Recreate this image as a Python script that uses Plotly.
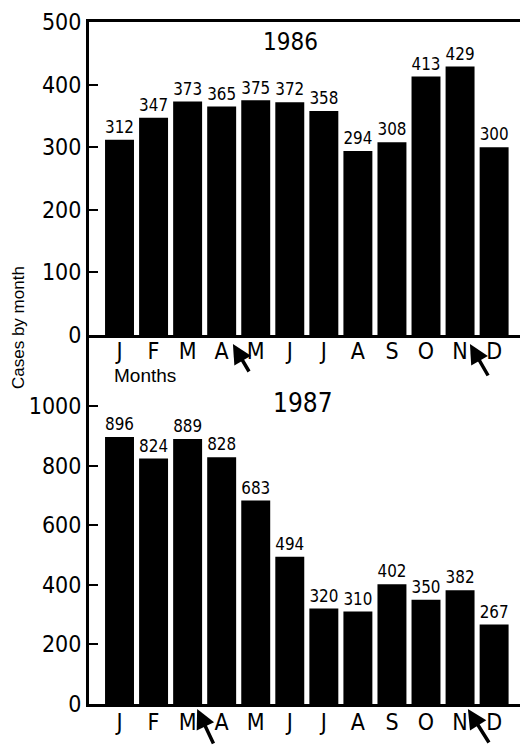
import plotly.graph_objects as go

months = ["J", "F", "M", "A", "M", "J", "J", "A", "S", "O", "N", "D"]
cases_1986 = [312, 347, 373, 365, 375, 372, 358, 294, 308, 413, 429, 300]
cases_1987 = [896, 824, 889, 828, 683, 494, 320, 310, 402, 350, 382, 267]
ticks_1986 = [0, 100, 200, 300, 400, 500]
ticks_1987 = [0, 200, 400, 600, 800, 1000]
# arrow positions (fractional month index) marking events
arrows_1986 = [3.33, 10.29]
arrows_1987 = [2.28, 10.23]

NARROW = "Noto Sans Condensed, DejaVu Sans Condensed, Liberation Sans Narrow, Roboto Condensed, Roboto, sans-serif"
PLAIN = "Liberation Sans, Arial, sans-serif"

xpos = list(range(len(months)))
fig = go.Figure()
fig.add_trace(go.Bar(x=xpos, y=cases_1986, xaxis="x", yaxis="y",
                     marker=dict(color="black", line=dict(width=0)),
                     text=[str(v) for v in cases_1986], textposition="outside",
                     textfont=dict(family=NARROW, size=18, color="black"),
                     cliponaxis=False, showlegend=False, hoverinfo="skip"))
fig.add_trace(go.Bar(x=xpos, y=cases_1987, xaxis="x2", yaxis="y2",
                     marker=dict(color="black", line=dict(width=0)),
                     text=[str(v) for v in cases_1987], textposition="outside",
                     textfont=dict(family=NARROW, size=18, color="black"),
                     cliponaxis=False, showlegend=False, hoverinfo="skip"))

split = (704 - 335) / 682
xr = [-0.896, 11.76]
axis_common = dict(showgrid=False, zeroline=False, showline=True, linecolor="black",
                   linewidth=3)
fig.update_layout(
    width=520, height=745,
    margin=dict(l=89, r=0, t=22, b=41),
    paper_bgcolor="white", plot_bgcolor="white",
    bargap=0.15,
    xaxis=dict(domain=[0, 1], anchor="y", range=xr, tickvals=xpos, ticktext=months,
               ticks="", mirror=True, ticklabelstandoff=-7,
               tickfont=dict(family=NARROW, size=23, color="black"), **axis_common),
    yaxis=dict(domain=[split, 1], anchor="x", range=[0, 500], tickvals=ticks_1986,
               ticks="inside", ticklen=9, tickwidth=2, tickcolor="black",
               tickfont=dict(family=NARROW, size=23, color="black"), **axis_common),
    xaxis2=dict(domain=[0, 1], anchor="y2", range=xr, tickvals=xpos, ticktext=months,
                ticks="", ticklabelstandoff=-5,
                tickfont=dict(family=NARROW, size=23, color="black"), **axis_common),
    yaxis2=dict(domain=[0, split], anchor="x2", range=[0, 1238], tickvals=ticks_1987,
                ticks="inside", ticklen=9, tickwidth=2, tickcolor="black",
                tickfont=dict(family=NARROW, size=23, color="black"), **axis_common),
)

lab = dict(xref="paper", yref="paper", showarrow=False, xanchor="center", yanchor="middle")
ann = [
    dict(text="1986", x=(290 - 89) / 431, y=(704 - 42) / 682,
         font=dict(family=NARROW, size=24, color="black"), **lab),
    dict(text="1987", x=(303 - 89) / 431, y=(704 - 403) / 682,
         font=dict(family=NARROW, size=26, color="black"), **lab),
    dict(text="Months", x=(145 - 89) / 431, y=(704 - 375) / 682,
         font=dict(family=PLAIN, size=19, color="black"), **lab),
    dict(text="Cases by month", x=(18 - 89) / 431, y=(704 - 328) / 682, textangle=-90,
         font=dict(family=PLAIN, size=17, color="black"), **lab),
]
arrow_style = dict(text="", showarrow=True, arrowhead=2, arrowsize=1.1, arrowwidth=3.5,
                   arrowcolor="black", standoff=0, yref="paper")
for xa, (dx, dy) in zip(arrows_1986, [(17, 29), (19, 33)]):
    ann.append(dict(x=xa, xref="x", y=(704 - 344) / 682, ax=dx, ay=dy, **arrow_style))
for xa, (dx, dy) in zip(arrows_1987, [(17, 37), (22, 35)]):
    ann.append(dict(x=xa, xref="x2", y=(704 - 709) / 682, ax=dx, ay=dy, **arrow_style))
fig.update_layout(annotations=ann)

fig.write_html("out.html", config={"displayModeBar": False},
               post_script="document.body.style.margin='0';document.body.style.overflow='hidden';")
